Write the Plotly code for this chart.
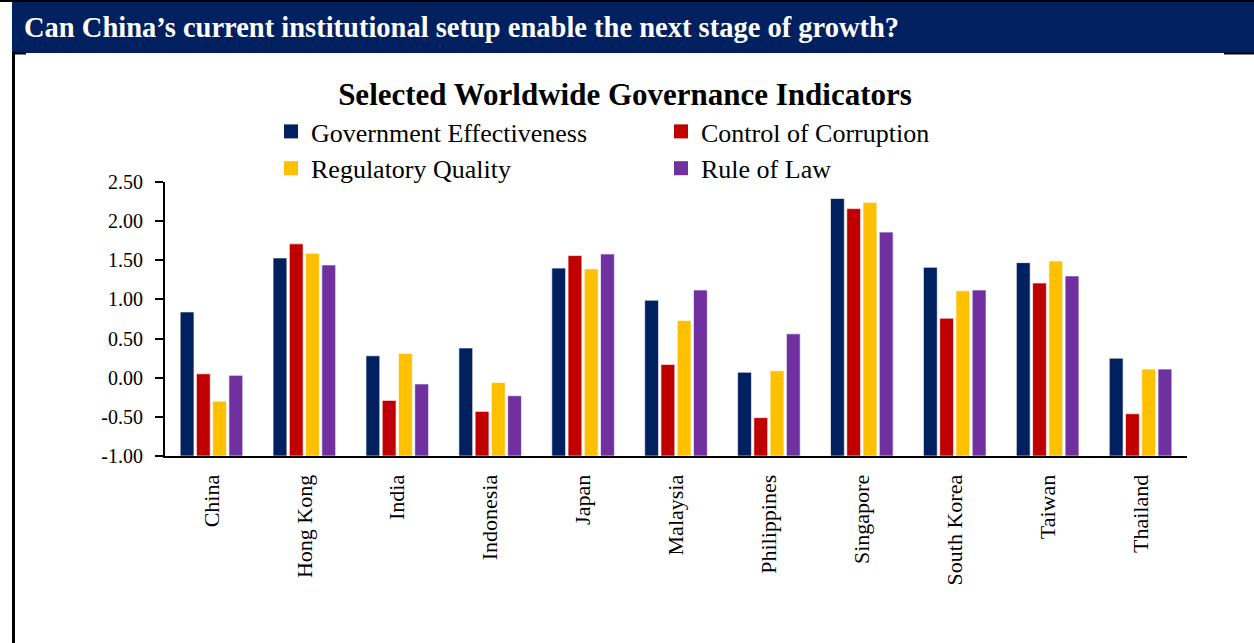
import plotly.graph_objects as go

countries = ["China", "Hong Kong", "India", "Indonesia", "Japan", "Malaysia",
             "Philippines", "Singapore", "South Korea", "Taiwan", "Thailand"]
gov_effectiveness = [0.84, 1.53, 0.28, 0.38, 1.40, 0.99, 0.07, 2.29, 1.41, 1.47, 0.25]
control_corruption = [0.05, 1.71, -0.29, -0.43, 1.56, 0.17, -0.51, 2.16, 0.76, 1.21, -0.46]
regulatory_quality = [-0.30, 1.59, 0.31, -0.06, 1.39, 0.73, 0.09, 2.24, 1.11, 1.49, 0.11]
rule_of_law = [0.03, 1.44, -0.08, -0.23, 1.58, 1.12, 0.56, 1.86, 1.12, 1.30, 0.11]

series_names = ["Government Effectiveness", "Control of Corruption",
                "Regulatory Quality", "Rule of Law"]
series_values = [gov_effectiveness, control_corruption, regulatory_quality, rule_of_law]
series_colors = ["#002060", "#C00000", "#FFC000", "#7030A0"]

tick_values = [-1.0, -0.5, 0.0, 0.5, 1.0, 1.5, 2.0, 2.5]
tick_labels = ["-1.00", "-0.50", "0.00", "0.50", "1.00", "1.50", "2.00", "2.50"]
axis_min = -1.0  # bars rise from the bottom of the value axis (Excel style)

W, H = 1254, 643
L, R, T, B = 165, 1187, 182, 456
SERIF = "Liberation Serif, Times New Roman, serif"


def px(x):
    return (x - L) / (R - L)


def py(y):
    return (B - y) / (B - T)


fig = go.Figure()
for name, vals, col in zip(series_names, series_values, series_colors):
    fig.add_trace(go.Bar(
        x=countries, y=[v - axis_min for v in vals], base=axis_min, name=name,
        legendgroup=name, showlegend=False,
        customdata=vals, hovertemplate="%{x}: %{customdata:.2f}<extra>" + name + "</extra>",
        marker=dict(color=col, line=dict(color="rgba(255,255,255,0.8)", width=0.8)),
    ))
# legend entries with larger square keys
for name, col in zip(series_names, series_colors):
    fig.add_trace(go.Scatter(
        x=[None], y=[None], mode="markers", name=name, legendgroup=name,
        marker=dict(symbol="square", size=14, color=col), hoverinfo="skip",
    ))

shapes = [
    dict(type="rect", xref="paper", yref="paper", x0=px(12), x1=px(1254), y0=py(53), y1=py(0),
         fillcolor="#002060", line=dict(width=0)),
    dict(type="line", xref="paper", yref="paper", x0=px(0), x1=px(1254), y0=py(1), y1=py(1),
         line=dict(color="black", width=2)),
    dict(type="line", xref="paper", yref="paper", x0=px(13.5), x1=px(13.5), y0=py(52), y1=py(643),
         line=dict(color="black", width=3)),
    dict(type="line", xref="paper", yref="paper", x0=px(12), x1=px(26), y0=py(53.5), y1=py(53.5),
         line=dict(color="black", width=2)),
    dict(type="line", xref="paper", yref="paper", x0=px(1224), x1=px(1254), y0=py(53.5), y1=py(53.5),
         line=dict(color="black", width=2)),
]

annotations = [
    dict(text="<b>Can China’s current institutional setup enable the next stage of growth?</b>",
         xref="paper", yref="paper", x=px(22), y=py(27), xanchor="left", yanchor="middle",
         showarrow=False, font=dict(family=SERIF, size=28.5, color="white")),
]

fig.update_layout(
    width=W, height=H,
    margin=dict(l=L, r=W - R, t=T, b=H - B, pad=0),
    paper_bgcolor="white", plot_bgcolor="white",
    barmode="group", bargap=0.3, bargroupgap=0.15,
    font=dict(family=SERIF, size=22, color="black"),
    title=dict(text="<b>Selected Worldwide Governance Indicators</b>",
               x=625 / W, xref="container", xanchor="center",
               y=1 - 94 / H, yref="container", yanchor="middle",
               font=dict(family=SERIF, size=31, color="black")),
    legend=dict(orientation="h", x=px(271), y=py(108), xanchor="left", yanchor="top",
                entrywidth=345, entrywidthmode="pixels", traceorder="normal",
                font=dict(family=SERIF, size=26, color="black"),
                bgcolor="rgba(0,0,0,0)", itemwidth=30),
    xaxis=dict(showline=True, linecolor="black", linewidth=2, ticks="", tickangle=-90,
               showgrid=False, tickfont=dict(family=SERIF, size=22, color="black"),
               ticklabelstandoff=8),
    yaxis=dict(range=[-1, 2.5], tickvals=tick_values, ticktext=tick_labels,
               showline=True, linecolor="black", linewidth=2, ticks="outside", ticklen=8,
               tickwidth=2, tickcolor="black", showgrid=False, zeroline=False,
               tickfont=dict(family=SERIF, size=20, color="black"), ticklabelstandoff=8),
    shapes=shapes, annotations=annotations,
)

fig.write_html("out.html")
